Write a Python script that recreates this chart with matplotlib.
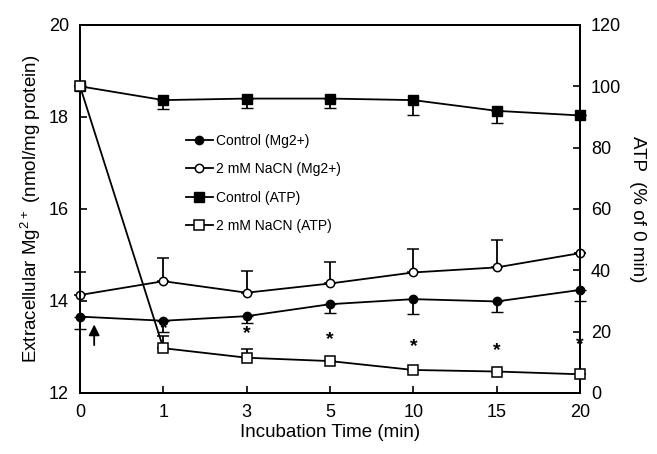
import matplotlib as mpl
mpl.use('Agg')
import matplotlib.pyplot as plt
from matplotlib.lines import Line2D

plt.rcParams['font.family'] = ['Liberation Sans', 'DejaVu Sans']
plt.rcParams['mathtext.fontset'] = 'custom'
plt.rcParams['mathtext.rm'] = 'Liberation Sans'

# incubation times (min), plotted at evenly spaced positions
tempos = ['0', '1', '3', '5', '10', '15', '20']
pos = list(range(len(tempos)))

# extracellular Mg2+ (nmol/mg protein)
mg_controle = [13.66, 13.57, 13.67, 13.93, 14.04, 13.99, 14.24]
mg_controle_err = [0.27, 0.25, 0.15, 0.2, 0.32, 0.22, 0.25]
mg_nacn = [14.13, 14.43, 14.18, 14.38, 14.62, 14.73, 15.04]
mg_nacn_err = [0.5, 0.5, 0.47, 0.47, 0.52, 0.6, 0.0]

# ATP (% of 0 min)
atp_controle = [100, 95.5, 96, 96, 95.5, 92, 90.5]
atp_controle_err = [0, 3, 3, 3, 5, 4, 0]
atp_nacn = [100, 14.6, 11.5, 10.4, 7.5, 7.0, 6.1]
atp_nacn_err = [0, 4, 3, 0, 0, 0, 0]

# significance marks (left axis units)
asterisco_pos = [1, 2, 3, 4, 5, 6]
asterisco_y = [13.41, 13.30, 13.17, 13.0, 12.93, 13.05]

fig = plt.figure(figsize=(6.57, 4.54), dpi=100)
ax = fig.add_axes([0.1218, 0.1344, 0.761, 0.8106])
ax2 = ax.twinx()

lw = 1.3
zeros = [0] * len(pos)
estilos = [
    dict(marker='o', ms=6, mfc='black'),
    dict(marker='o', ms=6, mfc='white', mew=1.1),
    dict(marker='s', ms=7, mfc='black'),
    dict(marker='s', ms=7, mfc='white', mew=1.1),
]

ax.errorbar(pos, mg_controle, yerr=[mg_controle_err, zeros], color='black', lw=lw,
            capsize=4, elinewidth=1.3, clip_on=False, zorder=3, **estilos[0])
ax.errorbar(pos, mg_nacn, yerr=[zeros, mg_nacn_err], color='black', lw=lw,
            capsize=4, elinewidth=1.3, clip_on=False, zorder=3, **estilos[1])
ax2.errorbar(pos, atp_controle, yerr=[atp_controle_err, zeros], color='black', lw=lw,
             capsize=4, elinewidth=1.3, clip_on=False, zorder=3, **estilos[2])
ax2.errorbar(pos, atp_nacn, yerr=[zeros, atp_nacn_err], color='black', lw=lw,
             capsize=4, elinewidth=1.3, clip_on=False, zorder=3, **estilos[3])

for p, yv in zip(asterisco_pos, asterisco_y):
    ax.text(p, yv, '*', ha='center', va='center', fontsize=14, fontweight='bold')

ax.annotate('', xy=(0.17, 13.55), xytext=(0.17, 12.98),
            arrowprops=dict(arrowstyle='-|>', color='black', lw=1.3, mutation_scale=16))

ax.set_xlim(0, 6)
ax.set_ylim(12, 20)
ax2.set_ylim(0, 120)
ax.set_xticks(pos)
ax.set_xticklabels(tempos)
ax.set_yticks([12, 14, 16, 18, 20])
ax2.set_yticks([0, 20, 40, 60, 80, 100, 120])

for a in (ax, ax2):
    a.tick_params(direction='in', labelsize=13, length=5, width=1.2, pad=8)
    for s in a.spines.values():
        s.set_linewidth(1.4)

ax.set_xlabel('Incubation Time (min)', fontsize=13.5, labelpad=2)
ax.set_ylabel('Extracellular Mg$^{2+}$ (nmol/mg protein)', fontsize=13.5, labelpad=4)
ax2.set_ylabel('ATP  (% of 0 min)', fontsize=13.5, rotation=270, labelpad=18)

nomes = ['Control (Mg2+)', '2 mM NaCN (Mg2+)', 'Control (ATP)', '2 mM NaCN (ATP)']
alcas = [Line2D([], [], color='black', lw=lw, **e) for e in estilos]
leg = ax2.legend(alcas, nomes, loc='upper left', bbox_to_anchor=(0.2, 0.72),
                 frameon=False, fontsize=10, handlelength=2.0, handletextpad=0.2,
                 labelspacing=1.05, borderaxespad=0)
leg.set_zorder(5)

fig.savefig('out.png', dpi=100)
